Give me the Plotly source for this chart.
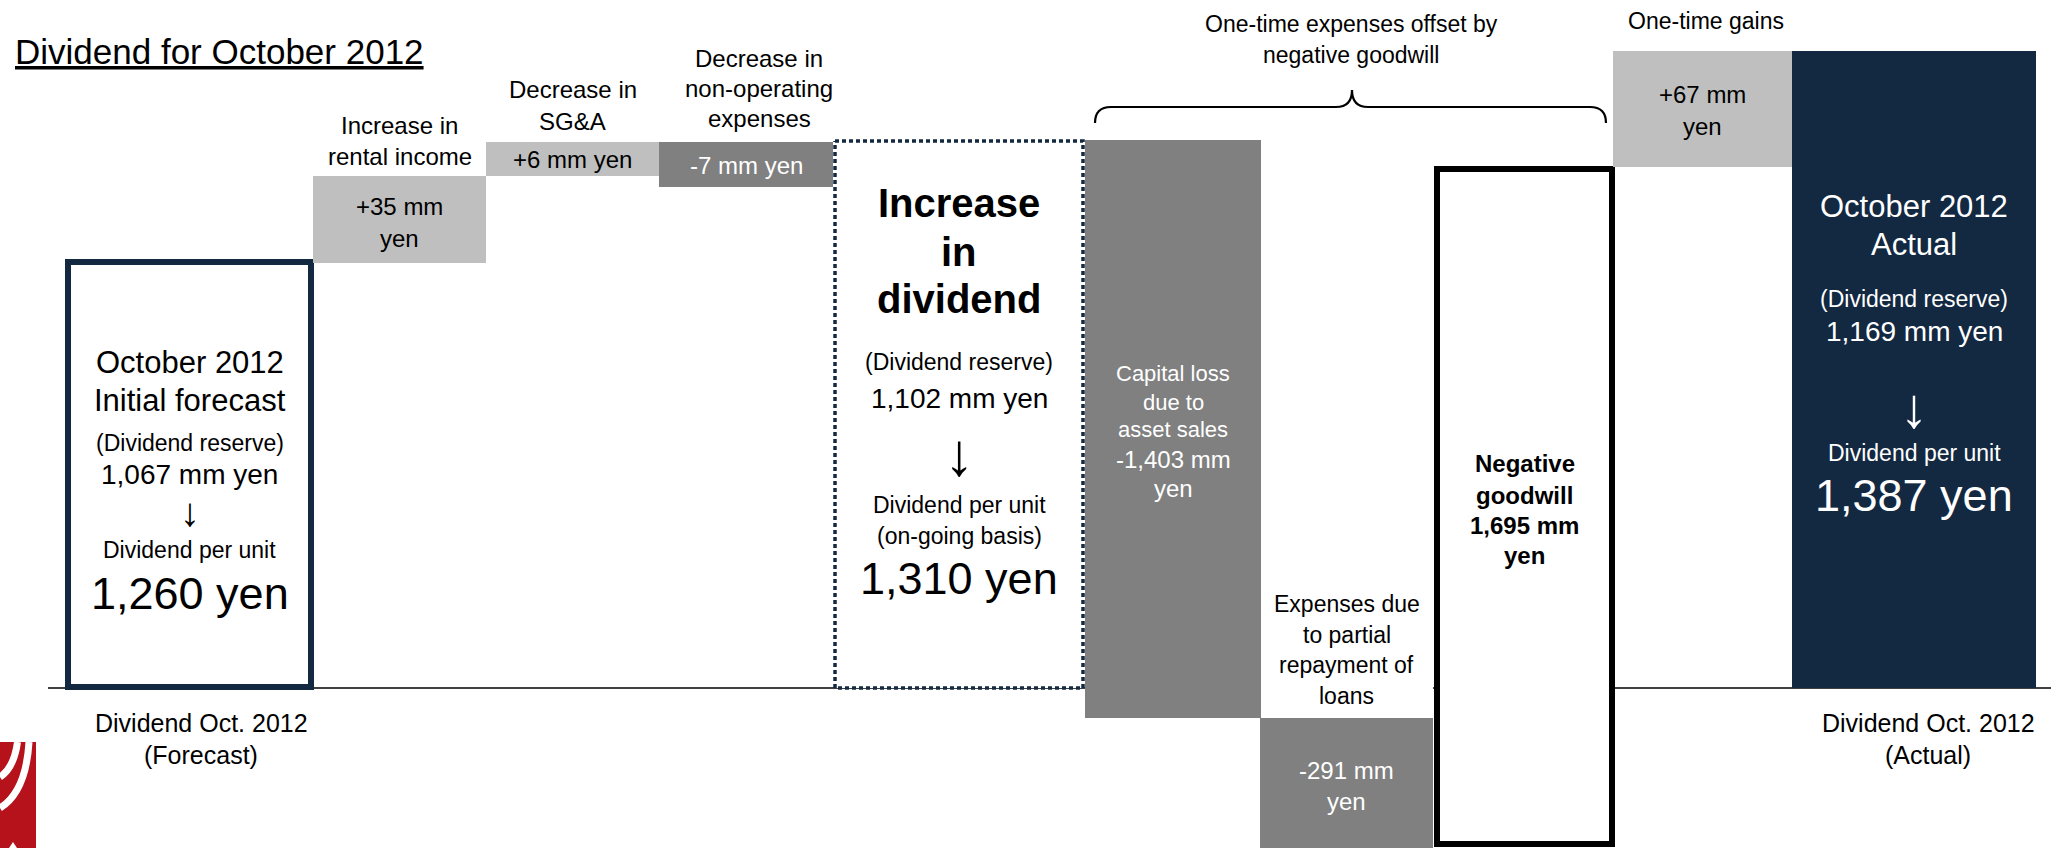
import plotly.graph_objects as go

# ---------------- data ----------------
categories = [
    "Dividend Oct. 2012 (Forecast)", "Increase in rental income", "Decrease in SG&A",
    "Decrease in non-operating expenses", "Increase in dividend",
    "Capital loss due to asset sales", "Expenses due to partial repayment of loans",
    "Negative goodwill", "One-time gains", "Dividend Oct. 2012 (Actual)",
]
amounts_mm_yen = [1067, 35, 6, -7, 1102, -1403, -291, 1695, 67, 1169]
dividend_per_unit_yen = [1260, None, None, None, 1310, None, None, None, None, 1387]
# schematic (not to scale) bar extents as drawn in the picture, chart units, 0 = base line
bar_bottom = [1, 425, 512, 501, 0, -30, -172, -156, 521, 0]
bar_top = [426, 512, 546, 546, 547, 548, -30, 519, 637, 637]

# ---------------- layout / style ----------------
W, H = 2058, 848
Y_TOP = 688                      # chart units at top edge of figure
bar_left = [68, 313, 486, 659, 835, 1085, 1260, 1437, 1613, 1792]
bar_right = [311, 486, 659, 833, 1083, 1261, 1433, 1612, 1792, 2036]

NAVY = "#132841"
LIGHT = "#bfbfbf"
DARK = "#808080"
WHITE = "#ffffff"
BLACK = "#000000"
RED = "#b5121b"
FONT = "Liberation Sans, Arial, sans-serif"

fills = [WHITE, LIGHT, LIGHT, DARK, WHITE, DARK, DARK, WHITE, LIGHT, NAVY]
line_cols = [NAVY, LIGHT, LIGHT, DARK, WHITE, DARK, DARK, BLACK, LIGHT, NAVY]
line_wids = [6, 0, 0, 0, 0, 0, 0, 6, 0, 0]

centers = [(l + r) / 2 for l, r in zip(bar_left, bar_right)]
widths = [r - l for l, r in zip(bar_left, bar_right)]
heights = [t - b for t, b in zip(bar_top, bar_bottom)]

fig = go.Figure()
fig.add_trace(go.Bar(
    x=centers, y=heights, base=bar_bottom, width=widths,
    marker=dict(color=fills, line=dict(color=line_cols, width=line_wids)),
    hoverinfo="skip", showlegend=False,
))

# dotted outline of the "Increase in dividend" box
i = 4
fig.add_trace(go.Scatter(
    x=[bar_left[i], bar_right[i], bar_right[i], bar_left[i], bar_left[i]],
    y=[bar_top[i], bar_top[i], bar_bottom[i], bar_bottom[i], bar_top[i]],
    mode="lines", line=dict(color=NAVY, width=3.5, dash="4px,3px"),
    hoverinfo="skip", showlegend=False,
))


def py(p):
    """figure pixel row -> chart units"""
    return Y_TOP - p


def amt(v):
    return f"{v:+,} mm"


def res(v):
    return f"{v:,} mm yen"


def dpu(v):
    return f"{v:,} yen"


labels = []  # (x, pixel_y, text, size, color, bold)


def add(x, rows, color=BLACK, bold=False):
    for y, txt, size in rows:
        labels.append((x, y, txt, size, color, bold))


# bar 1 : forecast
add(centers[0], [(362, "October 2012", 31), (400, "Initial forecast", 31),
                 (443, "(Dividend reserve)", 23), (474, res(amounts_mm_yen[0]), 28),
                 (512, "\u2193", 40), (550, "Dividend per unit", 23),
                 (593, dpu(dividend_per_unit_yen[0]), 45)])
# bar 2
add(centers[1], [(125, "Increase in", 24), (156, "rental income", 24),
                 (206, amt(amounts_mm_yen[1]), 24), (238, "yen", 24)])
# bar 3
add(centers[2], [(89, "Decrease in", 24), (121, "SG&A", 24),
                 (159, amt(amounts_mm_yen[2]) + " yen", 24)])
# bar 4
add(centers[3] + 13, [(58, "Decrease in", 24), (88, "non-operating", 24), (118, "expenses", 24)])
add(centers[3], [(165, amt(amounts_mm_yen[3]) + " yen", 24)], color=WHITE)
# bar 5
add(centers[4], [(203, "Increase", 40), (252, "in", 40), (299, "dividend", 40)], bold=True)
add(centers[4], [(362, "(Dividend reserve)", 23), (398, res(amounts_mm_yen[4]), 28),
                 (454, "\u2193", 60), (505, "Dividend per unit", 23),
                 (536, "(on-going basis)", 23), (578, dpu(dividend_per_unit_yen[4]), 45)])
# bar 6
add(centers[5], [(373, "Capital loss", 22), (402, "due to", 22), (429, "asset sales", 22),
                 (459, f"{amounts_mm_yen[5]:,} mm", 24), (488, "yen", 24)], color=WHITE)
# bar 7
add(centers[6], [(604, "Expenses due", 23), (635, "to partial", 23),
                 (665, "repayment of", 23), (696, "loans", 23)])
add(centers[6], [(770, f"{amounts_mm_yen[6]:,} mm", 24), (801, "yen", 24)], color=WHITE)
# bar 8
add(centers[7], [(463, "Negative", 24), (495, "goodwill", 24),
                 (525, f"{amounts_mm_yen[7]:,} mm", 24), (555, "yen", 24)], bold=True)
# brace label
add(1351, [(24, "One-time expenses offset by", 23), (55, "negative goodwill", 23)])
# bar 9
add(1706, [(21, "One-time gains", 23)])
add(centers[8], [(94, amt(amounts_mm_yen[8]), 24), (126, "yen", 24)])
# bar 10
add(centers[9], [(206, "October 2012", 31), (244, "Actual", 31),
                 (299, "(Dividend reserve)", 23), (331, res(amounts_mm_yen[9]), 28),
                 (407, "\u2193", 56), (453, "Dividend per unit", 23),
                 (495, dpu(dividend_per_unit_yen[9]), 45)], color=WHITE)
# bottom category labels
add(201, [(723, "Dividend Oct. 2012", 25), (755, "(Forecast)", 25)])
add(1928, [(723, "Dividend Oct. 2012", 25), (755, "(Actual)", 25)])

annotations = []
for x, y, txt, size, color, bold in labels:
    annotations.append(dict(
        x=x, y=py(y), xref="x", yref="y", text=(f"<b>{txt}</b>" if bold else txt),
        showarrow=False, xanchor="center", yanchor="middle",
        font=dict(family=FONT, size=size, color=color),
    ))
annotations.append(dict(
    x=13, y=py(51), xref="x", yref="y", text="<u>Dividend for October 2012</u>",
    showarrow=False, xanchor="left", yanchor="middle",
    font=dict(family=FONT, size=35, color=BLACK),
))

shapes = [
    # base line (hidden behind bars / the loan-expense label column)
    dict(type="line", xref="x", yref="y", x0=48, x1=bar_right[5], y0=0, y1=0,
         line=dict(color=BLACK, width=1.5), layer="below"),
    dict(type="line", xref="x", yref="y", x0=bar_right[6], x1=2051, y0=0, y1=0,
         line=dict(color=BLACK, width=1.5), layer="below"),
    # curly brace over one-time expenses
    dict(type="path", xref="x", yref="y",
         path=(f"M 1095,{py(123)} Q 1095,{py(107)} 1111,{py(107)} L 1336,{py(107)} "
               f"Q 1352,{py(107)} 1352,{py(90)} Q 1352,{py(107)} 1368,{py(107)} "
               f"L 1590,{py(107)} Q 1606,{py(107)} 1606,{py(123)}"),
         line=dict(color=BLACK, width=2.2)),
    # corner logo fragment
    dict(type="rect", xref="x", yref="y", x0=0, x1=36, y0=py(742), y1=py(848),
         fillcolor=RED, line=dict(width=0)),
    dict(type="path", xref="x", yref="y",
         path=f"M 17.5,{py(742)} Q 14,{py(768)} 0,{py(777)}",
         line=dict(color=WHITE, width=7)),
    dict(type="path", xref="x", yref="y",
         path=f"M 29,{py(742)} Q 26,{py(792)} 0,{py(808)}",
         line=dict(color=WHITE, width=7)),
    dict(type="path", xref="x", yref="y",
         path=f"M 9,{py(848)} L 13,{py(842)} L 17,{py(848)} Z",
         fillcolor=WHITE, line=dict(width=0)),
]

fig.update_layout(
    width=W, height=H, margin=dict(l=0, r=0, t=0, b=0),
    paper_bgcolor=WHITE, plot_bgcolor=WHITE,
    xaxis=dict(range=[0, W], visible=False, fixedrange=True),
    yaxis=dict(range=[Y_TOP - H, Y_TOP], visible=False, fixedrange=True),
    annotations=annotations, shapes=shapes, barmode="overlay",
    showlegend=False,
)

fig.write_html("out.html", config={"displayModeBar": False})
